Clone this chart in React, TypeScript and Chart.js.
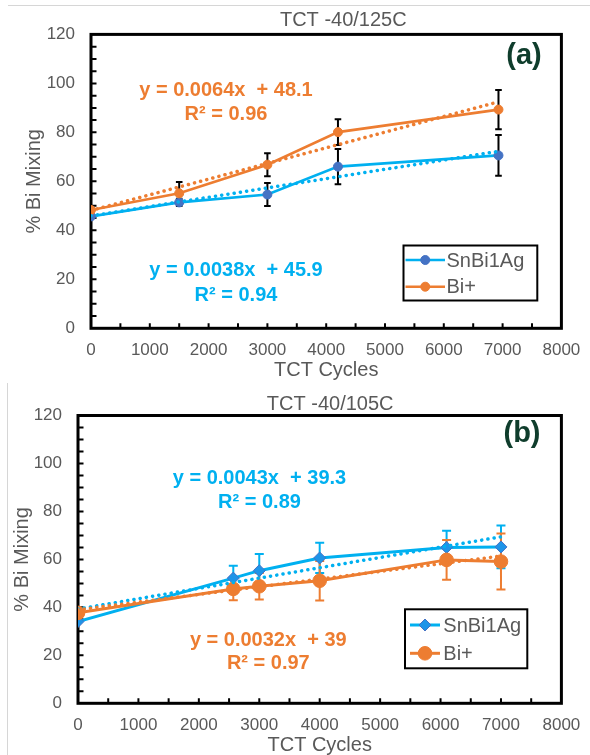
import React, { useEffect, useRef } from "react";
import { Chart, registerables } from "chart.js";

Chart.register(...registerables);

// ---- Panel (a): TCT -40/125C ----
const cyclesA = [0, 1500, 3000, 4200, 6930];
const snBiA = [45.7, 51.4, 54.6, 66.0, 70.6];
const snBiErrA = [0, 1.5, 4.7, 7.2, 8.3];
const biPlusA = [48.3, 55.1, 66.8, 80.1, 89.3];
const biPlusErrA = [0, 4.6, 4.7, 5.3, 8.0];
const fitSnA = { slope: 0.0038, intercept: 45.9, r2: "0.94" };
const fitBiA = { slope: 0.0064, intercept: 48.1, r2: "0.96" };

// ---- Panel (b): TCT -40/105C ----
const cyclesB = [0, 2570, 3000, 4000, 6100, 7000];
const snBiB = [34.1, 52.2, 55.3, 60.6, 65.0, 65.2];
const snBiErrB = [0, 5.2, 6.9, 6.3, 6.9, 8.9];
const biPlusB = [37.7, 47.7, 48.8, 51.1, 59.8, 59.1];
const biPlusErrB = [0, 4.7, 5.5, 8.2, 8.3, 11.7];
const fitSnB = { slope: 0.0043, intercept: 39.3, r2: "0.89" };
const fitBiB = { slope: 0.0032, intercept: 39, r2: "0.97" };

// ---- Axes ----
const xTickValues = [0, 1000, 2000, 3000, 4000, 5000, 6000, 7000, 8000];
const yTickValues = [0, 20, 40, 60, 80, 100, 120];
const xMinorStep = 500;
const yMinorStep = 5;

const seriesNames = ["SnBi1Ag", "Bi+"];
const xAxisTitle = "TCT Cycles";
const yAxisTitle = "% Bi Mixing";

const FONT = "'Liberation Sans', Arial, Helvetica, sans-serif";
const GREY = "#595959";
const BLUE_LINE = "#00B0F0";
const BLUE_MARK = "#4472C4";
const BLUE_DIAMOND = "#1E94E8";
const ORANGE = "#ED7D31";
const TAG_GREEN = "#0F3D2C";
const W = 590;

type Series = {
  label: string;
  x: number[];
  y: number[];
  err: number[];
  line: string;
  fill: string;
  border: string;
  style: "circle" | "rectRot";
  radius: number;
  lineWidth: number;
  errColor: string;
  errCap: number;
  fit: { slope: number; intercept: number; r2: string };
};

type Panel = {
  title: string;
  tag: string;
  top: number;
  height: number;
  area: { left: number; right: number; top: number; bottom: number };
  titlePos: [number, number];
  tagPos: [number, number];
  yTitlePad: number;
  xTitlePad: number;
  series: Series[];
  equations: { series: number; x: number; y1: number; y2: number }[];
  legend: { left: number; top: number; right: number; bottom: number; rows: number[]; lineFrom: number; lineTo: number; textX: number };
};

const panels: Panel[] = [
  {
    title: "TCT -40/125C",
    tag: "(a)",
    top: 0,
    height: 385,
    area: { left: 91, right: 561.4, top: 34.4, bottom: 328.3 },
    titlePos: [343.3, 20],
    tagPos: [524, 56],
    yTitlePad: 22,
    xTitlePad: 3,
    series: [
      {
        label: seriesNames[0], x: cyclesA, y: snBiA, err: snBiErrA,
        line: BLUE_LINE, fill: BLUE_MARK, border: BLUE_MARK, style: "circle", radius: 4.5,
        lineWidth: 2.6, errColor: "#000000", errCap: 3.3, fit: fitSnA,
      },
      {
        label: seriesNames[1], x: cyclesA, y: biPlusA, err: biPlusErrA,
        line: ORANGE, fill: ORANGE, border: ORANGE, style: "circle", radius: 4.5,
        lineWidth: 2.6, errColor: "#000000", errCap: 3.3, fit: fitBiA,
      },
    ],
    equations: [
      { series: 1, x: 226, y1: 90, y2: 114.3 },
      { series: 0, x: 236, y1: 270.7, y2: 295 },
    ],
    legend: { left: 403.5, top: 245.5, right: 537.3, bottom: 300.5, rows: [260, 286.7], lineFrom: 405.5, lineTo: 445, textX: 446.5 },
  },
  {
    title: "TCT -40/105C",
    tag: "(b)",
    top: 380,
    height: 400,
    area: { left: 78, right: 561.4, top: 35.5, bottom: 323.3 },
    titlePos: [330.2, 24.3],
    tagPos: [522, 54],
    yTitlePad: 10.6,
    xTitlePad: 23,
    series: [
      {
        label: seriesNames[0], x: cyclesB, y: snBiB, err: snBiErrB,
        line: BLUE_LINE, fill: BLUE_DIAMOND, border: BLUE_MARK, style: "rectRot", radius: 6,
        lineWidth: 3, errColor: BLUE_LINE, errCap: 4.5, fit: fitSnB,
      },
      {
        label: seriesNames[1], x: cyclesB, y: biPlusB, err: biPlusErrB,
        line: ORANGE, fill: ORANGE, border: ORANGE, style: "circle", radius: 6.8,
        lineWidth: 3, errColor: ORANGE, errCap: 4.5, fit: fitBiB,
      },
    ],
    equations: [
      { series: 0, x: 259.5, y1: 98.3, y2: 122.3 },
      { series: 1, x: 268.3, y1: 260, y2: 283.3 },
    ],
    legend: { left: 405, top: 229.3, right: 527.3, bottom: 288.3, rows: [245, 273.3], lineFrom: 410, lineTo: 440, textX: 443.3 },
  },
];

function fitLabel(f: { slope: number; intercept: number }) {
  return `y = ${f.slope}x  + ${f.intercept}`;
}

function drawMarker(ctx: CanvasRenderingContext2D, s: Series, x: number, y: number) {
  ctx.save();
  ctx.beginPath();
  if (s.style === "rectRot") {
    const r = s.radius;
    ctx.moveTo(x - r, y);
    ctx.lineTo(x, y - r);
    ctx.lineTo(x + r, y);
    ctx.lineTo(x, y + r);
    ctx.closePath();
  } else {
    ctx.arc(x, y, s.radius, 0, Math.PI * 2);
  }
  ctx.fillStyle = s.fill;
  ctx.fill();
  ctx.lineWidth = 1;
  ctx.strokeStyle = s.border;
  ctx.stroke();
  ctx.restore();
}

function makePlugin(p: Panel) {
  return {
    id: "panelDecor",
    beforeDatasetsDraw(chart: any) {
      const ctx: CanvasRenderingContext2D = chart.ctx;
      const xs = chart.scales.x;
      const ys = chart.scales.y;
      const { left, right, top, bottom } = chart.chartArea;
      ctx.save();
      // inward minor tick marks
      ctx.strokeStyle = "#000";
      ctx.lineWidth = 2;
      ctx.beginPath();
      for (let v = yMinorStep; v < 120; v += yMinorStep) {
        const py = ys.getPixelForValue(v);
        ctx.moveTo(left, py);
        ctx.lineTo(left + 5.5, py);
      }
      for (let v = xMinorStep; v < 8000; v += xMinorStep) {
        const px = xs.getPixelForValue(v);
        ctx.moveTo(px, bottom);
        ctx.lineTo(px, bottom - 5);
      }
      ctx.stroke();
      // plot frame
      ctx.lineWidth = 3;
      ctx.strokeRect(left, top, right - left, bottom - top);
      // error bars
      p.series.forEach((s) => {
        ctx.strokeStyle = s.errColor;
        ctx.lineWidth = 2;
        ctx.beginPath();
        s.x.forEach((xv, i) => {
          const e = s.err[i];
          if (!e) return;
          const px = xs.getPixelForValue(xv);
          const hi = ys.getPixelForValue(s.y[i] + e);
          const lo = ys.getPixelForValue(s.y[i] - e);
          ctx.moveTo(px, hi);
          ctx.lineTo(px, lo);
          ctx.moveTo(px - s.errCap, hi);
          ctx.lineTo(px + s.errCap, hi);
          ctx.moveTo(px - s.errCap, lo);
          ctx.lineTo(px + s.errCap, lo);
        });
        ctx.stroke();
      });
      ctx.restore();
    },
    afterDraw(chart: any) {
      const ctx: CanvasRenderingContext2D = chart.ctx;
      ctx.save();
      ctx.textAlign = "center";
      ctx.textBaseline = "middle";
      // chart title
      ctx.fillStyle = GREY;
      ctx.font = `20px ${FONT}`;
      ctx.fillText(p.title, p.titlePos[0], p.titlePos[1]);
      // panel tag
      ctx.fillStyle = TAG_GREEN;
      ctx.font = `bold 29px ${FONT}`;
      ctx.fillText(p.tag, p.tagPos[0], p.tagPos[1]);
      // trendline equations
      ctx.font = `bold 20px ${FONT}`;
      p.equations.forEach((eq) => {
        const s = p.series[eq.series];
        ctx.fillStyle = s.line;
        ctx.fillText(fitLabel(s.fit), eq.x, eq.y1);
        ctx.fillText(`R² = ${s.fit.r2}`, eq.x, eq.y2);
      });
      // legend
      const L = p.legend;
      ctx.fillStyle = "#fff";
      ctx.fillRect(L.left, L.top, L.right - L.left, L.bottom - L.top);
      ctx.strokeStyle = "#000";
      ctx.lineWidth = 2;
      ctx.strokeRect(L.left, L.top, L.right - L.left, L.bottom - L.top);
      ctx.textAlign = "left";
      ctx.font = `20px ${FONT}`;
      p.series.forEach((s, i) => {
        const y = L.rows[i];
        ctx.strokeStyle = s.line;
        ctx.lineWidth = s.lineWidth;
        ctx.beginPath();
        ctx.moveTo(L.lineFrom, y);
        ctx.lineTo(L.lineTo, y);
        ctx.stroke();
        drawMarker(ctx, s, (L.lineFrom + L.lineTo) / 2, y);
        ctx.fillStyle = GREY;
        ctx.fillText(s.label, L.textX, y + 1);
      });
      ctx.restore();
    },
  };
}

function PanelChart({ p }: { p: Panel }) {
  const ref = useRef<HTMLCanvasElement | null>(null);
  useEffect(() => {
    if (!ref.current) return;
    const area = p.area;
    const H = p.height;
    const datasets: any[] = [];
    // dotted linear trendlines, from the stated fit equations
    p.series.forEach((s, i) => {
      const x1 = s.x[s.x.length - 1];
      datasets.push({
        label: s.label + " fit",
        data: [
          { x: 0, y: s.fit.intercept },
          { x: x1, y: s.fit.intercept + s.fit.slope * x1 },
        ],
        borderColor: s.line,
        borderWidth: 3.5,
        borderDash: [0.1, 6.2],
        borderCapStyle: "round",
        pointRadius: 0,
        fill: false,
        order: 1 - i * 0.5,
      });
    });
    p.series.forEach((s, i) => {
      datasets.push({
        label: s.label,
        data: s.x.map((x, k) => ({ x, y: s.y[k] })),
        borderColor: s.line,
        borderWidth: s.lineWidth,
        pointStyle: s.style,
        pointRadius: s.radius,
        pointBackgroundColor: s.fill,
        pointBorderColor: s.border,
        pointBorderWidth: 1,
        tension: 0,
        fill: false,
        order: 3 - i,
      });
    });
    const tickFont = { family: FONT, size: 17, lineHeight: 1.2 };
    const plain = (v: any) => String(v);
    const chart = new Chart(ref.current, {
      type: "line",
      data: { datasets },
      options: {
        animation: false,
        responsive: false,
        devicePixelRatio: 1,
        layout: { padding: { left: 0, right: W - area.right, top: area.top, bottom: 0 } },
        plugins: {
          legend: { display: false },
          title: { display: false },
          tooltip: { enabled: false },
        },
        scales: {
          x: {
            type: "linear",
            min: 0,
            max: 8000,
            afterBuildTicks: (s: any) => {
              s.ticks = xTickValues.map((v) => ({ value: v }));
            },
            afterFit: (s: any) => {
              s.height = H - area.bottom;
              s.paddingLeft = 0;
              s.paddingRight = 0;
            },
            grid: { display: false, drawTicks: false },
            border: { display: false },
            ticks: { font: tickFont, color: GREY, padding: 11.5, maxRotation: 0, autoSkip: false, callback: plain },
            title: {
              display: true,
              text: xAxisTitle,
              color: GREY,
              font: { family: FONT, size: 20, lineHeight: 1.2 },
              padding: { top: 0, bottom: p.xTitlePad },
            },
          },
          y: {
            type: "linear",
            min: 0,
            max: 120,
            afterBuildTicks: (s: any) => {
              s.ticks = yTickValues.map((v) => ({ value: v }));
            },
            afterFit: (s: any) => {
              s.width = area.left;
              s.paddingTop = 0;
              s.paddingBottom = 0;
            },
            grid: { display: false, drawTicks: false },
            border: { display: false },
            ticks: { font: tickFont, color: GREY, padding: 16, callback: plain },
            title: {
              display: true,
              text: yAxisTitle,
              color: GREY,
              font: { family: FONT, size: 20, lineHeight: 1.2 },
              padding: { top: p.yTitlePad, bottom: 0 },
            },
          },
        },
      } as any,
      plugins: [makePlugin(p)],
    });
    return () => chart.destroy();
  }, [p]);
  return (
    <canvas
      ref={ref}
      width={W}
      height={p.height}
      style={{ position: "absolute", left: 0, top: p.top, width: W, height: p.height }}
    />
  );
}

export default function App() {
  return (
    <div
      style={{
        position: "absolute",
        left: 0,
        top: 0,
        width: W,
        height: 755,
        overflow: "hidden",
        background: "#fff",
      }}
    >
      <div style={{ position: "absolute", left: 8, top: 5, width: W - 8, height: 1, background: "#d6d6d6" }} />
      <div style={{ position: "absolute", left: 7, top: 383, width: 1, height: 372, background: "#d6d6d6" }} />
      {panels.map((p) => (
        <PanelChart key={p.tag} p={p} />
      ))}
    </div>
  );
}
